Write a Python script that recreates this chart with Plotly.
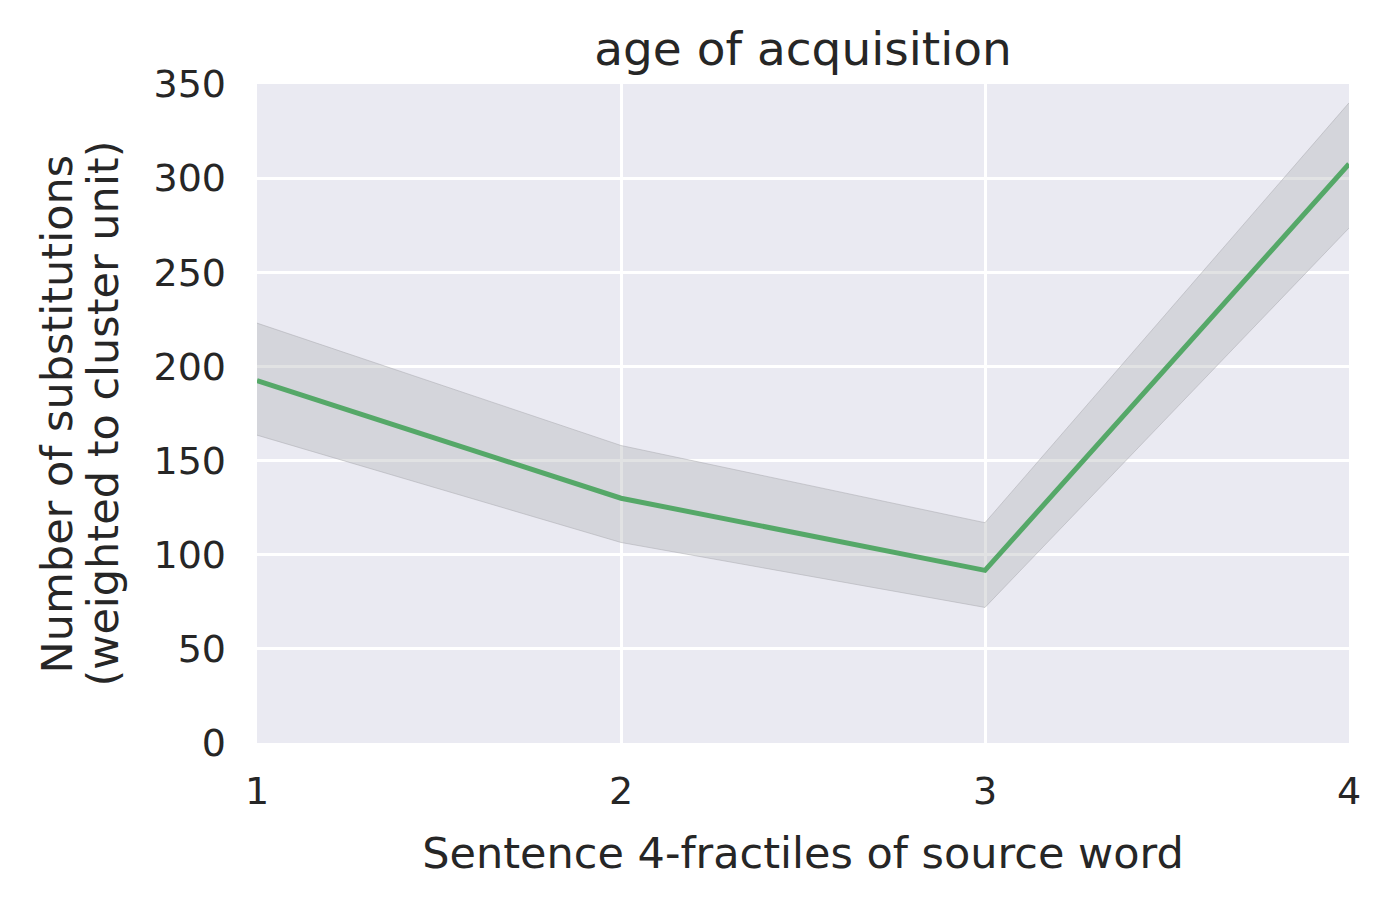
import plotly.graph_objects as go

# sentence 4-fractiles and the estimated values
fractiles = [1, 2, 3, 4]
substitutions = [192.5, 130.0, 91.7, 307.5]
ci_upper = [223.0, 158.0, 117.0, 340.0]
ci_lower = [163.5, 106.5, 72.0, 273.5]
y_title_lines = ["Number of substitutions", "(weighted to cluster unit)"]

FONT = "DejaVu Sans"
TEXT_COLOR = "#262626"

fig = go.Figure()

# confidence band: lower edge first, then fill up to the upper edge
fig.add_trace(
    go.Scatter(
        x=fractiles,
        y=ci_lower,
        mode="lines",
        line=dict(color="rgba(170,170,175,0.5)", width=1),
        showlegend=False,
        hoverinfo="skip",
    )
)
fig.add_trace(
    go.Scatter(
        x=fractiles,
        y=ci_upper,
        mode="lines",
        line=dict(color="rgba(170,170,175,0.5)", width=1),
        fill="tonexty",
        fillcolor="rgba(180,182,184,0.4)",
        showlegend=False,
        hoverinfo="skip",
    )
)
fig.add_trace(
    go.Scatter(
        x=fractiles,
        y=substitutions,
        mode="lines",
        line=dict(color="#55A868", width=5),
        showlegend=False,
    )
)

# two-line y title, tighter line spacing than plotly's own <br>
for xpos, line_text in zip([-0.1832, -0.1419], y_title_lines):
    fig.add_annotation(
        text=line_text,
        xref="paper",
        yref="paper",
        x=xpos,
        y=0.5,
        xanchor="center",
        yanchor="middle",
        textangle=-90,
        showarrow=False,
        font=dict(family=FONT, size=43, color=TEXT_COLOR),
    )

fig.update_layout(
    width=1384,
    height=900,
    paper_bgcolor="white",
    plot_bgcolor="#EAEAF2",
    margin=dict(l=249, r=43, t=76, b=165),
    font=dict(family=FONT, size=38, color=TEXT_COLOR),
    title=dict(
        text="age of acquisition",
        x=795 / 1384,
        xanchor="center",
        y=1 - 41 / 900,
        yanchor="middle",
        font=dict(size=47, color=TEXT_COLOR),
    ),
    xaxis=dict(
        range=[1, 4],
        tickvals=fractiles,
        ticktext=[str(v) for v in fractiles],
        showgrid=True,
        gridcolor="white",
        gridwidth=3,
        zeroline=False,
        showline=False,
        ticks="",
        ticklabelstandoff=22,
        title=dict(text="Sentence 4-fractiles of source word", standoff=25, font=dict(size=43)),
    ),
    yaxis=dict(
        range=[0, 350],
        tickvals=[0, 50, 100, 150, 200, 250, 300, 350],
        showgrid=True,
        gridcolor="white",
        gridwidth=3,
        zeroline=False,
        showline=False,
        ticks="",
        ticklabelstandoff=30,
    ),
)

fig.write_html("out.html")
